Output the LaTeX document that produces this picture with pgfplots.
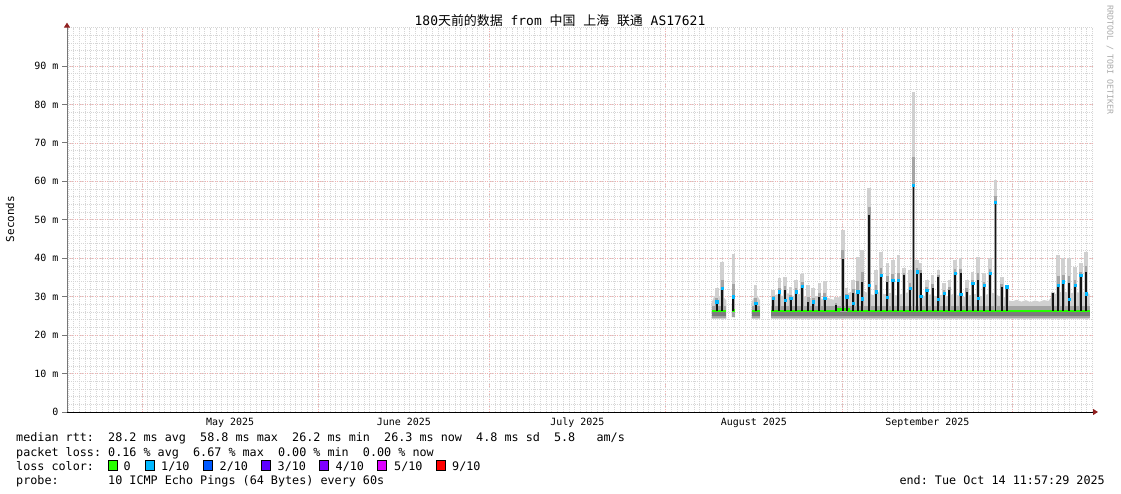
\documentclass[border=0pt]{standalone}
\usepackage{fontspec}
\usepackage{pgfplots}
\pgfplotsset{compat=1.18}
\usepackage{pgfplotstable}
\usetikzlibrary{arrows.meta}
\setmainfont{DejaVu Sans Mono}
\newfontfamily\cjk{Noto Sans CJK SC}
\definecolor{lc0}{HTML}{26FF00}
\definecolor{lc1}{HTML}{00B8FF}
\definecolor{lc2}{HTML}{0059FF}
\definecolor{lc3}{HTML}{5E00FF}
\definecolor{lc4}{HTML}{7E00FF}
\definecolor{lc5}{HTML}{DD00FF}
\definecolor{lc9}{HTML}{FF0000}
\definecolor{mingrid}{HTML}{D6D6D6}
\definecolor{majgrid}{HTML}{F2AFAF}
\definecolor{axgray}{HTML}{777777}
\definecolor{arrowred}{HTML}{902020}
\definecolor{smokeA}{HTML}{D0D0D0}
\definecolor{smokeB}{HTML}{A4A4A4}
\definecolor{smokeC}{HTML}{7C7C7C}
\definecolor{spike}{HTML}{141414}
\definecolor{rrdgray}{HTML}{AAAAAA}

% spikes: day, base, median peak, max, blue marker
\pgfplotstableread{
d base med max b
114.48 26.3 28.7 32.2 28.7
115.46 26.3 32.2 39.1 32.2
117.40 26.3 30.0 41.1 30.0
121.33 26.3 28.3 33.0 28.3
124.42 26.3 29.6 31.8 29.6
125.48 26.3 31.3 34.8 31.3
126.48 26.3 31.7 35.2 29.0
127.48 26.3 29.6 32.6 29.6
128.41 26.3 31.3 34.3 31.3
129.52 26.3 32.8 35.9 32.8
130.57 26.3 28.7 33.0 nan
131.45 26.3 28.7 32.2 28.7
132.51 26.3 30.0 33.5 nan
133.46 26.3 29.6 34.2 29.6
135.44 26.3 27.8 30.0 nan
136.62 26.3 39.8 47.3 nan
137.32 26.3 30.0 32.2 30.0
138.48 26.3 30.9 34.3 28.4
139.26 26.3 31.3 40.4 31.3
140.06 26.3 33.9 42.1 29.5
141.29 26.3 51.2 58.2 33.0
142.47 26.3 31.3 36.9 31.3
143.35 26.3 35.6 41.7 35.6
144.46 26.3 33.9 38.7 29.8
145.41 26.3 34.3 39.5 34.3
146.39 26.3 34.3 40.8 34.3
147.39 26.3 35.6 37.4 nan
148.45 26.3 32.2 36.9 32.2
149.06 26.3 59.1 83.3 59.1
149.68 26.3 36.5 39.5 36.5
150.32 26.3 36.1 38.7 30.2
151.38 26.3 31.7 34.3 31.7
152.43 26.3 32.2 35.6 nan
153.42 26.3 35.2 36.9 29.4
154.42 26.3 30.9 33.5 30.9
155.35 26.3 31.7 34.3 nan
156.35 26.3 36.1 39.5 36.1
157.35 26.3 36.1 40.0 30.6
158.41 26.3 31.3 34.3 nan
159.46 26.3 33.5 36.5 33.5
160.39 26.3 34.3 40.4 29.6
161.45 26.3 33.0 36.1 33.0
162.50 26.3 36.1 40.0 36.1
163.47 26.3 54.5 60.4 54.5
164.56 26.3 32.6 35.2 nan
165.44 26.3 32.6 33.0 32.6
173.52 26.3 30.9 31.3 nan
174.50 26.3 33.0 40.8 33.0
175.38 26.3 33.9 40.0 33.9
176.38 26.3 33.5 40.0 29.4
177.43 26.3 33.0 37.8 33.0
178.44 26.3 35.6 38.7 35.6
179.37 26.3 36.5 41.7 30.8
}\spikes

\begin{document}
\frenchspacing
\begin{tikzpicture}
\path[use as bounding box] (0,0) rectangle (1121bp,494bp);

\begin{axis}[
  at={(67bp,82bp)}, anchor=south west,
  scale only axis, width=1026bp, height=384.4bp,
  xmin=0.32, xmax=180.6, ymin=0, ymax=100,
  axis x line=bottom, axis y line=left,
  x axis line style={draw=black, line width=1bp, -{Triangle[length=5bp,width=6bp,color=arrowred]}, shorten >=-5bp},
  y axis line style={draw=axgray, line width=1bp, -{Triangle[length=5bp,width=6bp,color=arrowred]}, shorten >=-5bp},
  xtick={13.5,44.5,74.5,105.5,136.5,166.5}, xticklabels={},
  extra x ticks={29,59.5,90,121,151.5},
  extra x tick labels={May 2025,June 2025,July 2025,August 2025,September 2025},
  extra x tick style={grid=none, major tick length=0pt, xticklabel style={yshift=-2.5bp}},
  minor xtick={0.5,1.5,...,180.5},
  ytick={0,10,...,90},
  yticklabels={0,10 m,20 m,30 m,40 m,50 m,60 m,70 m,80 m,90 m},
  minor ytick={2,4,...,100},
  grid=both,
  major grid style={draw=majgrid, line width=0.7bp, dash pattern=on 1bp off 1.5bp},
  minor grid style={draw=mingrid, line width=0.6bp, dash pattern=on 1bp off 1bp},
  tick align=outside,
  major tick length=5bp, minor tick length=0pt,
  xtick style={draw=none},
  ytick style={draw=axgray, line width=1bp},
  ticklabel style={font=\fontsize{10}{12}\selectfont, text=black},
]
% light smoke bands
\addplot[fill=smokeA, draw=none, forget plot] coordinates {(113.6,24.2) (113.6,28.5) (114.0,30.0) (114.5,30.5) (115.0,29.8) (115.5,30.2) (116.2,29.0) (116.2,24.2)} -- cycle;
\addplot[fill=smokeA, draw=none, forget plot] coordinates {(117.1,24.6) (117.1,28.0) (117.4,29.5) (117.7,28.0) (117.7,24.6)} -- cycle;
\addplot[fill=smokeA, draw=none, forget plot] coordinates {(120.6,24.2) (120.6,28.5) (121.0,29.8) (121.5,30.5) (122.1,29.0) (122.1,24.2)} -- cycle;
\addplot[fill=smokeA, draw=none, forget plot] coordinates {(124.1,24.2) (124.1,29.8) (125,30.6) (126,30.2) (127,30.9) (128,30.1) (129,30.7) (130,30.0) (131,29.6) (132,30.2) (133,29.4) (134,29.7) (135,29.2) (136,29.9) (137,30.6) (138,31.2) (139,30.8) (140,31.5) (141,31.0) (142,30.4) (143,31.2) (144,30.6) (145,31.0) (146,30.3) (147,30.7) (148,31.1) (149,31.5) (150,30.8) (151,30.2) (152,30.6) (153,30.1) (154,30.5) (155,30.0) (156,30.7) (157,30.3) (158,29.9) (159,30.4) (160,30.7) (161,30.1) (162,30.6) (163,31.0) (164,30.2) (165,29.9) (165.8,29.0) (166.5,28.8) (167.2,29.2) (168,28.7) (168.8,29.1) (169.6,28.6) (170.4,29.0) (171.2,28.7) (172,29.1) (172.8,28.9) (173.5,30.4) (174.5,31.0) (175.5,31.4) (176.5,30.8) (177.5,31.2) (178.5,31.0) (179.4,31.3) (180.0,30.6) (180.0,24.2)} -- cycle;
% light smoke on spikes
\addplot[draw=none, mark=none, forget plot,
  error bars/.cd, y dir=plus, y explicit, error mark=none,
  error bar style={draw=smokeA, line width=3.6bp}]
  table[x=d, y=base, y error plus expr=\thisrow{max}-\thisrow{base}] {\spikes};
% medium smoke bands
\addplot[fill=smokeB, draw=none, forget plot] coordinates {(113.6,24.5) (113.6,27.5) (116.2,27.5) (116.2,24.5)} -- cycle;
\addplot[fill=smokeB, draw=none, forget plot] coordinates {(117.1,24.8) (117.1,27.3) (117.7,27.3) (117.7,24.8)} -- cycle;
\addplot[fill=smokeB, draw=none, forget plot] coordinates {(120.6,24.5) (120.6,27.5) (122.1,27.5) (122.1,24.5)} -- cycle;
\addplot[fill=smokeB, draw=none, forget plot] coordinates {(124.1,24.5) (124.1,27.6) (180.0,27.6) (180.0,24.5)} -- cycle;
\addplot[draw=none, mark=none, forget plot,
  error bars/.cd, y dir=plus, y explicit, error mark=none,
  error bar style={draw=smokeB, line width=2.8bp}]
  table[x=d, y=base, y error plus expr=\thisrow{med}-\thisrow{base}+0.3*(\thisrow{max}-\thisrow{med})] {\spikes};
% dark smoke core
\addplot[fill=smokeC, draw=none, forget plot] coordinates {(113.6,24.9) (113.6,26.0) (116.2,26.0) (116.2,24.9)} -- cycle;
\addplot[fill=smokeC, draw=none, forget plot] coordinates {(120.6,24.9) (120.6,26.0) (122.1,26.0) (122.1,24.9)} -- cycle;
\addplot[fill=smokeC, draw=none, forget plot] coordinates {(124.1,24.9) (124.1,26.0) (180.0,26.0) (180.0,24.9)} -- cycle;
% median, loss 0
\addplot[lc0, line width=2.6bp, forget plot] coordinates {(113.6,26.3) (116.2,26.3)};
\addplot[lc0, line width=2.6bp, forget plot] coordinates {(117.1,26.4) (117.7,26.4)};
\addplot[lc0, line width=2.6bp, forget plot] coordinates {(120.6,26.3) (122.1,26.3)};
\addplot[lc0, line width=2.6bp, forget plot] coordinates {(124.1,26.3) (135.9,26.3) (135.9,26.7) (137.6,26.7) (137.6,26.3) (180.0,26.3)};
% median spikes
\addplot[draw=none, mark=none, forget plot,
  error bars/.cd, y dir=plus, y explicit, error mark=none,
  error bar style={draw=spike, line width=1.7bp}]
  table[x=d, y=base, y error plus expr=\thisrow{med}-\thisrow{base}] {\spikes};
% loss 1/10 markers
\addplot[only marks, mark=square*, mark size=1.1bp, color=lc1, unbounded coords=discard, forget plot]
  table[x=d, y=b] {\spikes};
\end{axis}

% title and side texts
\node[font=\fontsize{13}{15}\selectfont] at (560bp,473bp) {180{\cjk 天前的数据} from {\cjk 中国} {\cjk 上海} {\cjk 联通} AS17621};
\node[font=\fontsize{11}{13}\selectfont, rotate=90] at (10bp,275bp) {Seconds};
\node[font=\fontsize{8.3}{10}\selectfont, rotate=-90, anchor=west, text=rrdgray, inner sep=0pt] at (1110bp,489bp) {RRDTOOL / TOBI OETIKER};

% legend
\begin{scope}[every node/.style={font=\fontsize{11.8}{14}\selectfont, inner sep=0pt, anchor=base west}]
\node at (16bp,52bp) {median~rtt:~~28.2~ms~avg~~58.8~ms~max~~26.2~ms~min~~26.3~ms~now~~4.8~ms~sd~~5.8~~~am/s};
\node at (16bp,38bp) {packet~loss:~0.16~\%~avg~~6.67~\%~max~~0.00~\%~min~~0.00~\%~now};
\node at (16bp,24bp) {loss~color:};
\node at (16bp,10bp) {probe:~~~~~~~10~ICMP~Echo~Pings~(64~Bytes)~every~60s};
\node[anchor=base east] at (1105bp,10bp) {end:~Tue~Oct~14~11:57:29~2025};
\draw[fill=lc0, line width=1bp] (108.75bp,23bp) rectangle (117.25bp,33bp);
\node at (123.5bp,24bp) {0};
\draw[fill=lc1, line width=1bp] (145.75bp,23bp) rectangle (154.25bp,33bp);
\node at (161bp,24bp) {1/10};
\draw[fill=lc2, line width=1bp] (203.75bp,23bp) rectangle (212.25bp,33bp);
\node at (219.5bp,24bp) {2/10};
\draw[fill=lc3, line width=1bp] (261.75bp,23bp) rectangle (270.25bp,33bp);
\node at (277.5bp,24bp) {3/10};
\draw[fill=lc4, line width=1bp] (319.75bp,23bp) rectangle (328.25bp,33bp);
\node at (335.5bp,24bp) {4/10};
\draw[fill=lc5, line width=1bp] (377.75bp,23bp) rectangle (386.25bp,33bp);
\node at (394bp,24bp) {5/10};
\draw[fill=lc9, line width=1bp] (436.75bp,23bp) rectangle (445.25bp,33bp);
\node at (452bp,24bp) {9/10};
\end{scope}
\end{tikzpicture}
\end{document}
